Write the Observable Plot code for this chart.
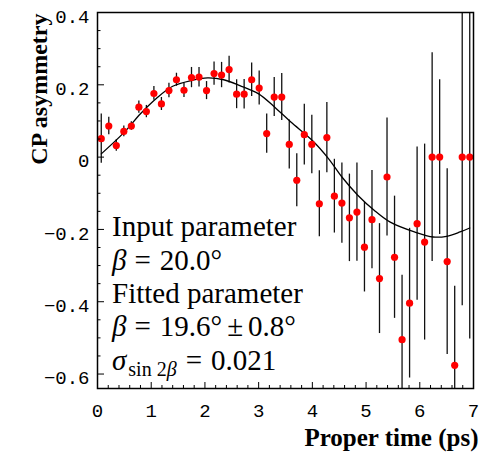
<!DOCTYPE html>
<html>
<head>
<meta charset="utf-8">
<script src="https://cdn.jsdelivr.net/npm/d3@7"></script>
<script src="https://cdn.jsdelivr.net/npm/@observablehq/plot@0.6"></script>
<style>
  html, body { margin: 0; padding: 0; background: white; }
  #chart { width: 480px; height: 460px; }
</style>
</head>
<body>
<div id="chart"></div>
<script>
// Bin centres (proper time, ps)
const times = [0.07,0.21,0.35,0.49,0.63,0.77,0.91,1.05,1.19,1.33,
               1.47,1.61,1.75,1.89,2.03,2.17,2.31,2.45,2.59,2.73,
               2.87,3.01,3.15,3.29,3.43,3.57,3.71,3.85,3.99,4.13,
               4.27,4.41,4.55,4.69,4.83,4.97,5.11,5.25,5.39,5.53,
               5.67,5.81,5.95,6.09,6.23,6.37,6.51,6.65,6.79,6.93];
// Measured CP asymmetry
const asym = [0.051,0.086,0.032,0.071,0.086,0.138,0.126,0.176,0.147,0.184,
              0.214,0.185,0.220,0.221,0.184,0.231,0.227,0.242,0.174,0.174,
              0.214,0.191,0.065,0.166,0.166,0.035,-0.064,0.062,0.035,-0.129,
              0.054,-0.108,-0.127,-0.168,-0.152,-0.249,-0.173,-0.336,-0.055,-0.277,
              -0.505,-0.404,-0.184,-0.235,0.0,0.0,-0.289,-0.576,0.0,0.0];
// Symmetric errors
const errs = [0.068,0.024,0.016,0.015,0.012,0.017,0.017,0.019,0.018,0.020,
              0.018,0.020,0.028,0.027,0.025,0.032,0.035,0.037,0.040,0.041,
              0.046,0.047,0.054,0.054,0.065,0.068,0.073,0.084,0.081,0.091,
              0.097,0.102,0.111,0.121,0.136,0.124,0.136,0.152,0.163,0.169,
              0.178,0.207,0.212,0.271,0.289,0.214,0.257,0.219,0.411,0.503];
// Fitted curve
const fitT = [0.07,0.5,0.8,1.1,1.4,1.75,2.05,2.35,2.65,3.0,3.3,3.6,4.0,4.3,4.55,4.85,5.15,5.45,5.9,6.25,6.5,6.75,6.93];
const fitY = [0.009,0.069,0.120,0.163,0.196,0.212,0.219,0.214,0.198,0.175,0.138,0.097,0.046,-0.004,-0.055,-0.106,-0.147,-0.180,-0.207,-0.221,-0.219,-0.207,-0.196];
// Axis ticks
const xMajor = [0,1,2,3,4,5,6,7];
const xMinor = [0.2,0.4,0.6,0.8,1.2,1.4,1.6,1.8,2.2,2.4,2.6,2.8,3.2,3.4,3.6,3.8,4.2,4.4,4.6,4.8,5.2,5.4,5.6,5.8,6.2,6.4,6.6,6.8];
const yMajor = [-0.6,-0.4,-0.2,0,0.2,0.4];
const yMinor = [-0.55,-0.5,-0.45,-0.35,-0.3,-0.25,-0.15,-0.1,-0.05,0.05,0.1,0.15,0.25,0.3,0.35];

const data = times.map((t, i) => ({t, a: asym[i], e: errs[i]}));
const fit = fitT.map((t, i) => ({t, y: fitY[i]}));

const W = 480, H = 460;
const mL = 97, mR = 7, mT = 12, mB = 72;
const fw = W - mL - mR, fh = H - mT - mB;
const mono = "'Liberation Mono', 'Courier New', monospace";
const serif = "'Liberation Serif', 'Times New Roman', serif";
const fmt = d => d === 0 ? "0" : d.toFixed(1).replace("-", "\u2212");

const plot = Plot.plot({
  width: W, height: H,
  marginLeft: mL, marginRight: mR, marginTop: mT, marginBottom: mB,
  style: {background: "white", overflow: "visible"},
  x: {domain: [0, 7], axis: null},
  y: {domain: [-0.64, 0.4], axis: null},
  marks: [
    // error bars
    Plot.ruleX(data, {x: "t", y1: d => d.a - d.e, y2: d => d.a + d.e, stroke: "#111", strokeWidth: 1.3, clip: true}),
    // fit curve
    Plot.line(fit, {x: "t", y: "y", stroke: "black", strokeWidth: 1.3, curve: "catmull-rom", clip: true}),
    // points
    Plot.dot(data, {x: "t", y: "a", r: 3.6, fill: "#ff0000", stroke: "none"}),
    // ticks inside frame
    Plot.tickX(xMajor, {x: d => d, insetTop: fh - 6, stroke: "black", strokeWidth: 1}),
    Plot.tickX(xMinor, {x: d => d, insetTop: fh - 3, stroke: "black", strokeWidth: 1}),
    Plot.tickY(yMajor, {y: d => d, insetRight: fw - 7, stroke: "black", strokeWidth: 1}),
    Plot.tickY(yMinor, {y: d => d, insetRight: fw - 3.5, stroke: "black", strokeWidth: 1}),
    // tick labels
    Plot.axisX({ticks: xMajor, tickSize: 0, tickPadding: 15, tickFormat: d => String(d), fontSize: 19, fontFamily: mono, label: null, anchor: "bottom"}),
    Plot.axisY({ticks: yMajor, tickSize: 0, tickPadding: 8, tickFormat: fmt, fontSize: 19, fontFamily: mono, label: null, anchor: "left", dy: 4}),
    Plot.frame({stroke: "black", strokeWidth: 1.5}),
    // axis titles
    Plot.text(["CP asymmetry"], {frameAnchor: "top-left", text: d => d, rotate: -90, textAnchor: "end", dx: -68, dy: 1,
      fontFamily: serif, fontWeight: "bold", fontSize: 24, fill: "black"}),
    Plot.text(["Proper time (ps)"], {frameAnchor: "bottom-right", text: d => d, textAnchor: "end", dx: 5, dy: 57,
      fontFamily: serif, fontWeight: "bold", fontSize: 25, fill: "black"})
  ]
});

document.getElementById("chart").appendChild(plot);

// Annotation block with math-style italics and TeX-like spacing
const g = d3.select(plot).append("g")
  .attr("font-family", serif).attr("font-size", 29).attr("fill", "black")
  .attr("text-anchor", "start");
const x0 = mL + 15;
const base = [236, 270, 303, 336, 370];

g.append("text").attr("x", x0).attr("y", base[0]).text("Input parameter");

let t2 = g.append("text").attr("x", x0).attr("y", base[1]);
t2.append("tspan").attr("font-style", "italic").text("\u03b2");
t2.append("tspan").attr("dx", 8).text("=");
t2.append("tspan").attr("dx", 9).text("20.0\u00b0");

g.append("text").attr("x", x0).attr("y", base[2]).text("Fitted parameter");

let t4 = g.append("text").attr("x", x0).attr("y", base[3]);
t4.append("tspan").attr("font-style", "italic").text("\u03b2");
t4.append("tspan").attr("dx", 8).text("=");
t4.append("tspan").attr("dx", 9).text("19.6\u00b0");
t4.append("tspan").attr("dx", 5).text("\u00b1");
t4.append("tspan").attr("dx", 5).text("0.8\u00b0");

let t5 = g.append("text").attr("x", x0).attr("y", base[4]);
t5.append("tspan").attr("font-style", "italic").text("\u03c3");
t5.append("tspan").attr("font-size", 20).attr("dy", 6).attr("dx", 2).text("sin 2");
t5.append("tspan").attr("font-size", 20).attr("font-style", "italic").text("\u03b2");
t5.append("tspan").attr("dy", -6).attr("dx", 9).text("=");
t5.append("tspan").attr("dx", 9).text("0.021");
</script>
</body>
</html>
